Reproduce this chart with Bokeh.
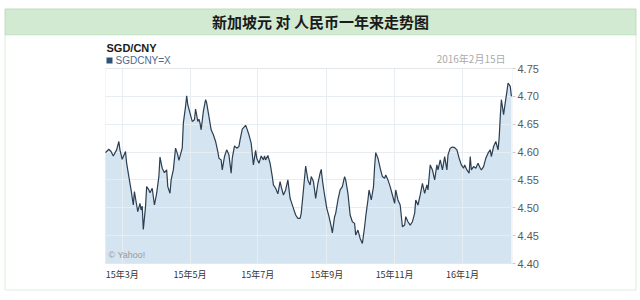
from datetime import datetime, timedelta

from bokeh.plotting import figure
from bokeh.models import Range1d, FixedTicker, BoxAnnotation, Label
from bokeh.embed import file_html
from bokeh.resources import INLINE

# ---------------- data ----------------
start_day = datetime(2015, 2, 14)
day_offsets = [
    0, 1, 3, 5, 7, 10, 12, 13, 15, 18, 19, 21, 23, 25, 26, 28, 29, 31, 32, 33, 34,
    36, 37, 39, 40, 42, 44, 46, 48, 49, 51, 53, 55, 56, 58, 59, 61, 63, 65, 66, 69,
    70, 72,
    73, 74, 76, 78, 80, 81, 83, 84, 85, 86, 88, 90, 91, 93, 95, 97, 99, 101, 102, 104,
    105, 107, 109, 111, 113, 114, 116, 118, 120, 121, 123, 126, 127, 129, 131, 133,
    135, 136, 138, 140, 142,
    143, 144, 146, 148, 150, 151, 153, 155, 157, 158, 160, 162, 164, 166, 167, 169,
    171, 173, 175, 176, 178, 180, 182, 184, 185, 187, 189, 191, 193, 194, 195, 197,
    199, 201, 203, 204, 206, 207, 209, 211,
    213, 215, 216, 218, 220, 222, 224, 225, 227, 229, 231, 233, 234, 236, 237, 239,
    241, 242, 243, 245, 247, 249, 251, 252, 254, 256, 258, 260, 261, 263, 265, 267,
    269, 270, 272, 274, 276, 278, 279, 281, 283, 285, 287,
    289, 290, 292, 294, 296, 298, 299, 301, 303, 305, 307, 308, 310, 312, 314, 316,
    318, 320, 322, 323, 325, 327, 328, 329, 331, 333, 335, 337, 338, 340, 342, 344,
    346, 347, 349, 351, 353, 354, 355, 356, 358, 359, 361, 362, 364, 365,
]
rates = [
    4.599, 4.601, 4.605, 4.601, 4.593, 4.604, 4.619, 4.604, 4.587, 4.601, 4.580,
    4.556, 4.532, 4.505, 4.529, 4.505, 4.493, 4.508, 4.496, 4.503, 4.461, 4.502,
    4.538, 4.532, 4.527, 4.535, 4.505, 4.526, 4.556, 4.591, 4.571, 4.563, 4.568,
    4.538, 4.526, 4.550, 4.568, 4.607, 4.595, 4.585, 4.607, 4.652, 4.682,
    4.701, 4.685, 4.670, 4.655, 4.658, 4.677, 4.655, 4.659, 4.652, 4.640, 4.673,
    4.694, 4.688, 4.664, 4.640, 4.631, 4.619, 4.601, 4.589, 4.586, 4.568, 4.592,
    4.604, 4.595, 4.562, 4.589, 4.611, 4.607, 4.610, 4.622, 4.641, 4.648, 4.643,
    4.631, 4.616, 4.577, 4.603, 4.589, 4.580, 4.593, 4.586,
    4.593, 4.586, 4.594, 4.580, 4.556, 4.541, 4.535, 4.525, 4.547, 4.538, 4.523,
    4.532, 4.550, 4.517, 4.511, 4.499, 4.487, 4.481, 4.481, 4.490, 4.532, 4.575,
    4.550, 4.541, 4.556, 4.547, 4.517, 4.544, 4.562, 4.569, 4.550, 4.523, 4.499,
    4.484, 4.466, 4.455, 4.484, 4.490, 4.514, 4.532,
    4.538, 4.556, 4.550, 4.526, 4.487, 4.475, 4.472, 4.451, 4.460, 4.445, 4.436,
    4.466, 4.484, 4.514, 4.532, 4.514, 4.538, 4.574, 4.599, 4.589, 4.571, 4.556,
    4.553, 4.559, 4.550, 4.538, 4.523, 4.508, 4.532, 4.514, 4.505, 4.466, 4.469,
    4.484, 4.475, 4.469, 4.475, 4.490, 4.514, 4.505, 4.523, 4.544, 4.526,
    4.541, 4.532, 4.577, 4.568, 4.550, 4.577, 4.568, 4.586, 4.568, 4.592, 4.568,
    4.595, 4.607, 4.609, 4.608, 4.604, 4.589, 4.577, 4.571, 4.577, 4.568, 4.562,
    4.592, 4.568, 4.574, 4.571, 4.580, 4.571, 4.568, 4.574, 4.589, 4.598, 4.604,
    4.592, 4.610, 4.619, 4.604, 4.625, 4.664, 4.694, 4.667, 4.682, 4.709, 4.724,
    4.718, 4.700,
]
dates = [start_day + timedelta(days=d) for d in day_offsets]

x_tick_dates = ["2015-03-01", "2015-05-01", "2015-07-01", "2015-09-01",
                "2015-11-01", "2016-01-01"]
x_tick_labels = ["15年3月", "15年5月", "15年7月", "15年9月", "15年11月", "16年1月"]
y_ticks = [4.40, 4.45, 4.50, 4.55, 4.60, 4.65, 4.70, 4.75]
y_tick_labels = ["4.40", "4.45", "4.50", "4.55", "4.60", "4.65", "4.70", "4.75"]
chart_start, chart_end = "2015-02-14", "2016-02-15"
y_min, y_max = 4.40, 4.75

title_text = "新加坡元 对 人民币一年来走势图"
pair_text = "SGD/CNY"
series_text = "SGDCNY=X"
date_text = "2016年2月15日"
credit_text = "© Yahoo!"

# ---------------- layout geometry (canvas pixels) ----------------
W, H = 640, 300
CL, CR, CT, CB = 105, 512, 68, 263          # chart area inside the canvas


def to_ms(s):
    return (datetime.strptime(s, "%Y-%m-%d") - datetime(1970, 1, 1)).total_seconds() * 1000.0


xs0, xs1 = to_ms(chart_start), to_ms(chart_end)
kx = (xs1 - xs0) / (CR - CL)
ky = (y_max - y_min) / (CB - CT)
x_range = Range1d(start=xs0 - CL * kx, end=xs1 + (W - CR) * kx)
y_range = Range1d(start=y_min - (H - CB) * ky, end=y_max + CT * ky)

p = figure(width=W, height=H, x_axis_type="datetime", output_backend="svg",
           toolbar_location=None, y_axis_location="right",
           x_range=x_range, y_range=y_range,
           min_border=0, min_border_left=0, min_border_right=0,
           min_border_top=0, min_border_bottom=0)
p.background_fill_color = "white"
p.border_fill_color = "white"
p.outline_line_color = None

# ---------------- decorations behind the chart ----------------
p.add_layout(BoxAnnotation(left=4.5, right=635.5, top=8.5, bottom=289.5,
                           left_units="canvas", right_units="canvas",
                           top_units="canvas", bottom_units="canvas",
                           fill_color="white", fill_alpha=1,
                           line_color="#8fc58f", line_width=1, level="underlay"))
p.add_layout(BoxAnnotation(left=4.5, right=635.5, top=8.5, bottom=34.5,
                           left_units="canvas", right_units="canvas",
                           top_units="canvas", bottom_units="canvas",
                           fill_color="#d1ead1", fill_alpha=1,
                           line_color="#8fc58f", line_width=1, level="underlay"))

# area + line
p.varea(x=dates, y1=y_min, y2=rates, fill_color="#d4e4f0")
ln = p.line(x=dates, y=rates, line_color="#2b3e52", line_width=1.2)
ln.level = "annotation"

# chart outline
p.add_layout(BoxAnnotation(left=xs0, right=xs1, top=y_max, bottom=y_min,
                           fill_alpha=0, line_color="#dedede", line_width=1,
                           level="guide"))

# ---------------- axes (drawn at fixed locations inside the canvas) ----------------
xt = [to_ms(s) for s in x_tick_dates]
p.xaxis.fixed_location = y_min
p.xaxis.ticker = FixedTicker(ticks=xt)
p.xaxis.major_label_overrides = {t: l for t, l in zip(xt, x_tick_labels)}
p.xaxis.axis_line_color = None
p.xaxis.major_tick_line_color = None
p.xaxis.major_tick_out = 0
p.xaxis.major_tick_in = 0
p.xaxis.minor_tick_line_color = None
p.xaxis.major_label_standoff = 4
p.xaxis.major_label_text_font = "Noto Sans CJK SC"
p.xaxis.major_label_text_font_size = "9px"
p.xaxis.major_label_text_color = "#333333"

p.yaxis.fixed_location = xs1
p.yaxis.ticker = FixedTicker(ticks=y_ticks)
p.yaxis.major_label_overrides = {t: l for t, l in zip(y_ticks, y_tick_labels)}
p.yaxis.axis_line_color = None
p.yaxis.major_tick_line_color = "#cccccc"
p.yaxis.major_tick_out = 3
p.yaxis.major_tick_in = 0
p.yaxis.minor_tick_line_color = None
p.yaxis.major_label_standoff = 2
p.yaxis.major_label_text_font = "Liberation Sans"
p.yaxis.major_label_text_font_size = "11px"
p.yaxis.major_label_text_color = "#5a5a5a"

p.xgrid.cross_bounds = (y_min, y_max)
p.ygrid.cross_bounds = (xs0, xs1)
for g in (p.xgrid, p.ygrid):
    g.grid_line_color = "#e8edf1"
    g.grid_line_width = 1
    g.level = "guide"

# ---------------- texts ----------------
p.add_layout(BoxAnnotation(left=106, right=112, top=57, bottom=63,
                           left_units="canvas", right_units="canvas",
                           top_units="canvas", bottom_units="canvas",
                           fill_color="#2e5276", fill_alpha=1, line_color=None))


def lab(x, y, text, size, color, font, style="normal", align="left"):
    p.add_layout(Label(x=x, y=y, x_units="canvas", y_units="canvas", text=text,
                       text_font=font, text_font_size=size, text_color=color,
                       text_font_style=style, text_align=align,
                       text_baseline="middle"))


lab(320, 21, title_text, "15px", "#1a1a1a", "Noto Sans CJK SC", "bold", "center")
lab(106, 47, pair_text, "11px", "#1a1a1a", "Liberation Sans", "bold")
lab(115, 60, series_text, "10px", "#4a6a8e", "Liberation Sans")
lab(505, 58, date_text, "10px", "#aaaaaa", "Noto Sans CJK SC", "normal", "right")
lab(108, 254, credit_text, "9px", "#9a9a9a", "Liberation Sans")

open("out.html", "w").write(file_html(p, INLINE))
